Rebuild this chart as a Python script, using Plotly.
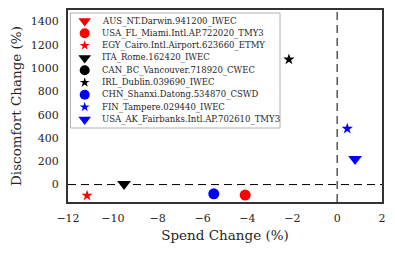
import plotly.graph_objects as go

names = [
    "AUS_NT.Darwin.941200_IWEC",
    "USA_FL_Miami.Intl.AP.722020_TMY3",
    "EGY_Cairo.Intl.Airport.623660_ETMY",
    "ITA_Rome.162420_IWEC",
    "CAN_BC_Vancouver.718920_CWEC",
    "IRL_Dublin.039690_IWEC",
    "CHN_Shanxi.Datong.534870_CSWD",
    "FIN_Tampere.029440_IWEC",
    "USA_AK_Fairbanks.Intl.AP.702610_TMY3",
]
spend_change = [-8.0, -4.1, -11.15, -9.5, -6.0, -2.15, -5.5, 0.45, 0.8]
discomfort_change = [900, -90, -95, 5, 700, 1075, -80, 480, 220]
colors = ["red", "red", "red", "black", "black", "black", "blue", "blue", "blue"]
symbols = ["triangle-down", "circle", "star",
           "triangle-down", "circle", "star",
           "circle", "star", "triangle-down"]
sizes = {"triangle-down": 12, "circle": 11, "star": 8.5}
legend_sizes = {"triangle-down": 11, "circle": 10, "star": 7.5}

x_ticks = [-12, -10, -8, -6, -4, -2, 0, 2]
y_ticks = [0, 200, 400, 600, 800, 1000, 1200, 1400]

FONT = "DejaVu Serif"
TXT = "#262626"

fig = go.Figure()
for n, xv, yv, c, s in zip(names, spend_change, discomfort_change, colors, symbols):
    fig.add_trace(go.Scatter(
        x=[xv], y=[yv], mode="markers", name=n, showlegend=False,
        marker=dict(symbol=s, color=c, size=sizes[s], opacity=1, line=dict(width=0)),
    ))

fig.add_hline(y=0, line=dict(color="black", width=1, dash="8px,5px"))
fig.add_vline(x=0, line=dict(color="black", width=1, dash="8px,5px"))

# legend drawn on an invisible overlay axis measured in plot-area pixels
W, H = 314.0, 192.0
bx0, bx1, by0, by1 = 2.5, 212, 3, 118
fig.add_trace(go.Scatter(
    x=[bx0, bx1, bx1, bx0, bx0], y=[by0, by0, by1, by1, by0],
    xaxis="x2", yaxis="y2", mode="lines", fill="toself", fillcolor="white",
    line=dict(color="#b0b0b0", width=1), hoverinfo="skip", showlegend=False))
row0, step = 11.0, 12.3
rows = [row0 + i * step for i in range(len(names))]
fig.add_trace(go.Scatter(
    x=[16.7] * len(names), y=rows, xaxis="x2", yaxis="y2", mode="markers",
    marker=dict(symbol=symbols, color=colors, opacity=1,
                size=[legend_sizes[s] for s in symbols], line=dict(width=0)),
    hoverinfo="skip", showlegend=False))
for yy, n in zip(rows, names):
    fig.add_annotation(xref="x2", yref="y2", x=31.5, y=yy,
                       text=n, showarrow=False, xanchor="left", yanchor="middle",
                       font=dict(family=FONT, size=8.5, color=TXT))

axis_common = dict(showgrid=False, zeroline=False, showline=True, mirror=True,
                   linecolor="#333333", linewidth=2, ticks="outside", ticklen=5,
                   tickcolor="rgba(0,0,0,0)", automargin=False,
                   tickfont=dict(family=FONT, size=11, color=TXT))
fig.update_xaxes(range=[-12, 2], tickvals=x_ticks,
                 ticktext=[f"\u2212{abs(v)}" if v < 0 else str(v) for v in x_ticks],
                 title=dict(text="Spend Change (%)", font=dict(family=FONT, size=13.5, color=TXT), standoff=6),
                 **axis_common)
fig.update_yaxes(range=[-150, 1500], tickvals=y_ticks,
                 title=dict(text="Discomfort Change (%)", font=dict(family=FONT, size=13.5, color=TXT), standoff=6),
                 **axis_common)

fig.update_layout(
    width=387, height=246, margin=dict(l=60, r=13, t=2, b=52),
    plot_bgcolor="white", paper_bgcolor="white", showlegend=False,
    xaxis2=dict(overlaying="x", range=[0, W], visible=False, anchor="y2", fixedrange=True),
    yaxis2=dict(overlaying="y", range=[H, 0], visible=False, anchor="x2", fixedrange=True),
)
fig.write_html("out.html")
